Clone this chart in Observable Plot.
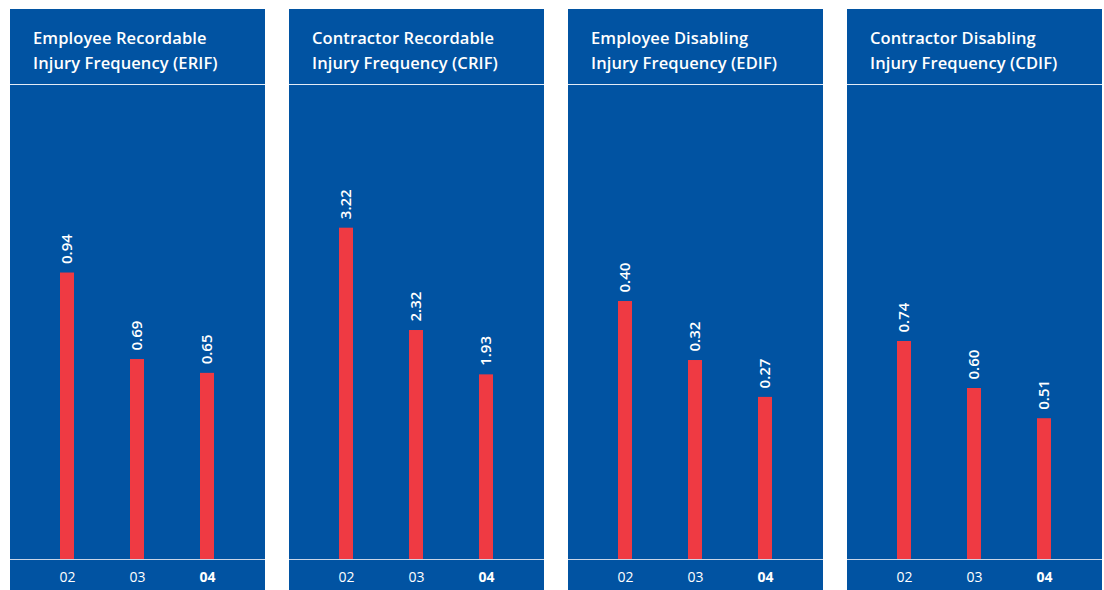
<!DOCTYPE html>
<html><head><meta charset="utf-8">
<script src="https://cdn.jsdelivr.net/npm/d3@7"></script>
<script src="https://cdn.jsdelivr.net/npm/@observablehq/plot@0.6"></script>
<style>
body{margin:0;background:#fff;width:1104px;height:590px;overflow:hidden;position:relative;font-family:"Open Sans",sans-serif;}
.panel{position:absolute;top:9px;width:255px;height:581px;background:#0153a2;overflow:hidden;}
.head{height:59px;padding:16px 0 0 23px;border-bottom:1px solid #e3ebf6;color:#fff;font-weight:600;font-size:16.5px;line-height:25px;letter-spacing:0.1px;}
.panel svg{display:block;background:transparent;}
</style></head>
<body>
<div id="root"></div>
<script>
const years = ["02", "03", "04"];
const boldYear = "04";
const erif = [0.94, 0.69, 0.65];
const crif = [3.22, 2.32, 1.93];
const edif = [0.40, 0.32, 0.27];
const cdif = [0.74, 0.60, 0.51];
const titles = [
  ["Employee Recordable", "Injury Frequency (ERIF)"],
  ["Contractor Recordable", "Injury Frequency (CRIF)"],
  ["Employee Disabling", "Injury Frequency (EDIF)"],
  ["Contractor Disabling", "Injury Frequency (CDIF)"]
];

const panels = [
  {values: erif, title: titles[0], domain: [0.112, 1.482], left: 10},
  {values: crif, title: titles[1], domain: [0.306, 4.475], left: 289},
  {values: edif, title: titles[2], domain: [0.0502, 0.6929], left: 568},
  {values: cdif, title: titles[3], domain: [0.0906, 1.5026], left: 847}
];

const fmt = d3.format(".2f");
const root = document.getElementById("root");

for (const p of panels) {
  const data = years.map((y, i) => ({year: y, value: p.values[i]}));
  const div = document.createElement("div");
  div.className = "panel";
  div.style.left = p.left + "px";
  const head = document.createElement("div");
  head.className = "head";
  head.innerHTML = p.title[0] + "<br>" + p.title[1];
  div.appendChild(head);

  const base = p.domain[0];
  const chart = Plot.plot({
    width: 255,
    height: 505,
    marginTop: 0,
    marginBottom: 31,
    marginLeft: 0,
    marginRight: 0,
    style: {background: "transparent", color: "#fff", fontFamily: "Open Sans, sans-serif"},
    x: {domain: years, range: [22, 232], paddingInner: 0.8, paddingOuter: 0.4, axis: null},
    y: {domain: p.domain, axis: null},
    marks: [
      Plot.barY(data, {x: "year", y1: base, y2: "value", fill: "#ef3a43", insetLeft: 0, insetRight: 0}),
      Plot.ruleY([base], {stroke: "#c9d5e8", strokeWidth: 1.2}),
      Plot.text(data, {x: "year", y: "value", text: d => fmt(d.value), rotate: -90, textAnchor: "start", lineAnchor: "middle", dy: -9, fill: "#fff", fontSize: 15, fontWeight: 600}),
      Plot.text(data.filter(d => d.year !== boldYear), {x: "year", frameAnchor: "bottom", text: "year", dy: 18, lineAnchor: "middle", fill: "#fff", fontSize: 14, fontWeight: 400}),
      Plot.text(data.filter(d => d.year === boldYear), {x: "year", frameAnchor: "bottom", text: "year", dy: 18, lineAnchor: "middle", fill: "#fff", fontSize: 14, fontWeight: 700})
    ]
  });
  div.appendChild(chart);
  root.appendChild(div);
}
</script>
</body></html>
